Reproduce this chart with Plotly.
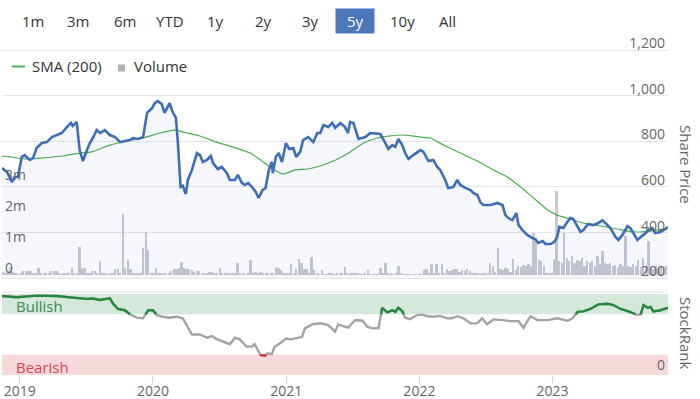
import numpy as np
import pandas as pd
import plotly.graph_objects as go

# ---------------- data ----------------
price_dates = [
    "2018-11-13", "2018-11-27", "2018-12-10", "2018-12-18", "2018-12-27",
    "2019-01-06", "2019-01-14", "2019-01-28", "2019-02-06", "2019-02-16",
    "2019-03-02", "2019-03-16", "2019-03-30", "2019-04-12", "2019-04-26",
    "2019-05-10", "2019-05-21", "2019-05-26", "2019-06-06", "2019-06-14",
    "2019-06-23", "2019-07-04", "2019-07-12", "2019-07-20", "2019-07-31",
    "2019-08-09", "2019-08-22", "2019-09-05", "2019-09-19", "2019-10-03",
    "2019-10-16", "2019-10-30", "2019-11-07", "2019-11-21", "2019-12-05",
    "2019-12-16", "2019-12-30", "2020-01-06", "2020-01-14", "2020-01-25",
    "2020-02-02", "2020-02-16", "2020-02-24", "2020-03-04", "2020-03-09",
    "2020-03-17", "2020-03-23", "2020-03-31", "2020-04-06", "2020-04-17",
    "2020-05-01", "2020-05-09", "2020-05-17", "2020-05-28", "2020-06-08",
    "2020-06-14", "2020-06-27", "2020-07-08", "2020-07-22", "2020-07-30",
    "2020-08-13", "2020-08-21", "2020-09-01", "2020-09-09", "2020-09-18",
    "2020-09-29", "2020-10-09", "2020-10-17", "2020-10-28", "2020-11-05",
    "2020-11-14", "2020-11-22", "2020-11-25", "2020-12-03", "2020-12-11",
    "2020-12-20", "2020-12-31", "2021-01-09", "2021-01-20", "2021-01-28",
    "2021-02-08", "2021-02-16", "2021-03-02", "2021-03-16", "2021-03-27",
    "2021-04-04", "2021-04-13", "2021-04-26", "2021-05-07", "2021-05-15",
    "2021-05-29", "2021-06-11", "2021-06-19",
    "2021-06-25", "2021-07-04", "2021-07-18", "2021-08-06", "2021-08-19",
    "2021-09-16", "2021-09-24", "2021-10-08", "2021-10-19", "2021-10-27",
    "2021-11-04", "2021-11-15", "2021-11-23", "2021-12-02", "2021-12-15",
    "2021-12-26", "2022-01-04", "2022-01-12", "2022-01-26", "2022-02-08",
    "2022-02-19", "2022-02-27", "2022-03-13", "2022-03-21", "2022-04-04",
    "2022-04-15", "2022-04-23", "2022-05-07", "2022-05-21", "2022-05-29",
    "2022-06-09", "2022-06-17", "2022-06-25", "2022-07-15", "2022-08-03",
    "2022-08-17", "2022-08-25", "2022-09-02", "2022-09-13", "2022-09-24",
    "2022-09-30", "2022-10-11", "2022-10-24", "2022-11-07", "2022-11-15",
    "2022-11-23", "2022-12-05", "2022-12-13", "2022-12-27", "2023-01-06",
    "2023-01-14", "2023-01-20", "2023-01-31", "2023-02-11", "2023-02-19",
    "2023-02-27", "2023-03-11", "2023-03-19", "2023-03-27", "2023-04-09",
    "2023-04-23", "2023-05-07", "2023-05-18", "2023-05-26", "2023-06-09",
    "2023-06-23", "2023-07-01", "2023-07-12", "2023-07-26", "2023-08-03",
    "2023-08-11", "2023-08-22", "2023-08-31", "2023-09-08", "2023-09-22",
    "2023-10-02", "2023-10-10", "2023-10-24", "2023-11-07", "2023-11-14",
]
price_values = [
    682, 665, 621, 643, 643,
    731, 739, 718, 726, 770,
    792, 796, 818, 827, 836,
    862, 880, 867, 884, 761,
    713, 761, 792, 814, 849,
    836, 849, 827, 818, 796,
    801, 805, 814, 810, 818,
    924, 946, 967, 976, 963,
    924, 967, 928, 902, 805,
    599, 604, 568, 630, 674,
    748, 739, 709, 718, 735,
    704, 678, 687, 660, 630,
    630, 652, 617, 608, 617,
    599, 577, 551, 586, 595,
    674, 709, 660, 731, 748,
    709, 792, 766, 770, 731,
    753, 805, 818, 796, 836,
    836, 871, 862, 880, 858,
    880, 862, 836,
    884, 880, 810, 818, 836,
    832, 810, 766, 783, 775,
    810, 783, 748, 722, 739,
    753, 761, 753, 713, 718,
    687, 674, 630, 595, 599,
    630, 608, 595, 586, 573,
    564, 533, 520, 520, 529,
    520, 476, 463, 454, 485,
    432, 410, 389, 375, 371,
    354, 362, 349, 349, 358,
    380, 424, 419, 446, 463,
    459, 424, 402, 410, 437,
    432, 441, 454, 441, 419,
    380, 367, 389, 428, 419,
    397, 367, 380, 389, 410,
    419, 397, 402, 415, 424,
]

sma_dates = [
    "2018-11-13", "2018-12-05", "2019-01-20", "2019-02-25", "2019-04-29",
    "2019-06-14", "2019-07-17", "2019-09-05", "2019-10-21", "2019-12-05",
    "2020-01-20", "2020-03-01", "2020-04-03", "2020-05-09", "2020-06-24",
    "2020-08-08", "2020-09-24", "2020-10-22", "2020-11-17", "2020-12-23",
    "2021-01-25", "2021-02-28", "2021-04-04", "2021-05-10", "2021-06-25",
    "2021-08-01", "2021-09-08", "2021-10-13", "2021-11-23", "2022-01-04",
    "2022-01-31", "2022-03-08", "2022-04-23", "2022-06-09", "2022-07-23",
    "2022-08-30", "2022-10-05", "2022-11-10", "2022-12-19", "2023-01-14",
    "2023-02-19", "2023-03-27", "2023-05-13", "2023-06-28", "2023-08-11",
    "2023-09-27", "2023-11-14",
]
sma_values = [
    735, 731, 722, 726, 735, 748, 753, 783, 801, 814,
    836, 849, 836, 823, 796, 774, 748, 718, 687, 656,
    674, 678, 691, 713, 753, 792, 814, 823, 827, 818,
    814, 783, 748, 713, 674, 643, 600, 551, 498, 476,
    459, 441, 428, 415, 402, 406, 419,
]

# weekly volume, in millions of shares (first week ending 2018-11-16)
volume_start = "2018-11-16"
volume_millions = [
    0.10, 0.08, 0.12, 0.26, 0.10, 0.05, 0.03, 0.04, 0.13, 0.12,
    0.14, 0.13, 0.05, 0.04, 0.23, 0.08, 0.07, 0.08, 0.04, 0.13,
    0.12, 0.14, 0.04, 0.03, 0.04, 0.06, 0.05, 0.23, 0.08, 0.06,
    0.91, 0.20, 0.22, 0.08, 0.05, 0.13, 0.12, 0.05, 0.46, 0.06,
    0.05, 0.03, 0.04, 0.06, 0.20, 0.18, 0.08, 1.96, 0.23, 0.50,
    0.20, 0.06, 0.05, 0.04, 0.06, 0.87, 1.40, 0.82, 0.04, 0.05,
    0.23, 0.08, 0.07, 0.06, 0.07, 0.08, 0.12, 0.20, 0.18, 0.22,
    0.43, 0.22, 0.18, 0.20, 0.16, 0.10, 0.13, 0.12, 0.06, 0.05,
    0.04, 0.10, 0.10, 0.05, 0.06, 0.23, 0.05, 0.04, 0.05, 0.03,
    0.04, 0.05, 0.38, 0.04, 0.05, 0.03, 0.05, 0.48, 0.05, 0.10,
    0.07, 0.10, 0.06, 0.05, 0.06, 0.05, 0.07, 0.25, 0.22, 0.15,
    0.04, 0.05, 0.06, 0.35, 0.05, 0.20, 0.51, 0.38, 0.20, 0.18,
    0.05, 0.58, 0.15, 0.04, 0.03, 0.15, 0.03, 0.02, 0.07, 0.06,
    0.03, 0.08, 0.08, 0.04, 0.25, 0.07, 0.06, 0.04, 0.05, 0.04,
    0.03, 0.03, 0.04, 0.15, 0.02, 0.02, 0.03, 0.02, 0.23, 0.05,
    0.38, 0.06, 0.05, 0.03, 0.04, 0.28, 0.05, 0.02, 0.02, 0.01,
    0.01, 0.01, 0.01, 0.02, 0.03, 0.17, 0.20, 0.05, 0.35, 0.04,
    0.35, 0.05, 0.35, 0.04, 0.20, 0.12, 0.15, 0.18, 0.20, 0.10,
    0.15, 0.12, 0.18, 0.14, 0.05, 0.04, 0.06, 0.03, 0.05, 0.04,
    0.06, 0.38, 0.30, 0.10, 0.87, 0.20, 0.15, 0.22, 0.18, 0.10,
    0.51, 0.15, 0.30, 0.25, 0.32, 0.28, 0.35, 0.30, 1.37, 1.15,
    0.48, 0.45, 0.30, 0.05, 0.04, 0.06, 0.50, 2.72, 0.45, 0.40,
    1.34, 0.55, 0.45, 0.60, 0.40, 0.50, 0.45, 0.55, 0.30, 0.45,
    0.40, 0.45, 0.30, 0.60, 0.35, 0.77, 0.40, 0.35, 0.38, 0.30,
    0.33, 0.25, 0.35, 0.30, 1.26, 0.30, 0.25, 0.35, 0.28, 0.50,
    0.25, 0.55, 0.30, 1.10, 0.25, 0.20, 0.28, 0.22, 0.30, 0.25,
    0.28,
]

rank_dates = [
    "2018-11-13", "2018-12-24", "2019-02-16", "2019-04-12", "2019-05-26",
    "2019-07-04", "2019-07-20", "2019-08-09", "2019-09-05", "2019-09-13",
    "2019-09-27", "2019-10-16", "2019-10-30", "2019-11-18", "2019-12-05",
    "2019-12-19", "2020-01-01", "2020-01-12", "2020-01-28", "2020-02-16",
    "2020-03-06", "2020-03-23", "2020-04-17", "2020-05-09", "2020-05-28",
    "2020-06-11", "2020-06-24", "2020-07-11", "2020-07-30", "2020-08-13",
    "2020-08-26", "2020-09-14", "2020-09-29", "2020-10-06", "2020-10-22",
    "2020-11-03", "2020-11-11", "2020-11-22", "2020-11-30", "2020-12-14",
    "2020-12-31", "2021-01-12", "2021-01-31", "2021-02-13", "2021-02-21",
    "2021-03-13", "2021-04-04", "2021-04-26", "2021-05-15", "2021-05-23",
    "2021-06-19", "2021-07-09", "2021-07-29", "2021-08-11", "2021-08-25",
    "2021-09-11", "2021-09-21", "2021-10-05", "2021-10-19", "2021-10-27",
    "2021-11-04", "2021-11-15", "2021-11-23", "2021-12-07", "2021-12-26",
    "2022-01-09", "2022-01-23", "2022-02-08", "2022-02-27", "2022-03-18",
    "2022-04-01", "2022-04-15", "2022-05-02", "2022-05-21", "2022-06-09",
    "2022-06-22", "2022-07-06", "2022-07-23", "2022-08-19", "2022-09-07",
    "2022-09-30", "2022-10-14", "2022-10-24", "2022-11-02", "2022-11-21",
    "2022-12-19", "2023-01-14", "2023-02-11", "2023-02-25", "2023-03-11",
    "2023-03-27", "2023-04-15", "2023-05-07", "2023-06-01", "2023-06-17",
    "2023-07-07", "2023-07-29", "2023-08-22", "2023-08-31", "2023-09-08",
    "2023-09-19", "2023-09-27", "2023-10-05", "2023-10-24", "2023-11-14",
]
rank_values = [
    97.5, 96, 98, 97.5, 95.5, 94, 94.5, 92.6, 94.7, 88.5,
    81.5, 80, 75, 70.8, 70, 80, 80, 74, 72, 70.8,
    72, 70, 50, 50, 46, 48, 44.4, 41, 38, 46,
    44, 35, 35, 38, 24.7, 23.8, 26.7, 25.5, 35, 39,
    45, 44, 46, 47, 57.6, 62.5, 63.8, 61.7, 53.5, 62.5,
    58.4, 68, 67, 59.7, 57.6, 58, 83, 77.4, 80, 78,
    83, 79, 70.8, 69, 74, 74.5, 72.6, 72, 73, 70,
    70, 72.6, 70, 63.8, 63.8, 70, 62.5, 68.7, 67.8, 66.5,
    66.5, 58.4, 66.5, 72.6, 68, 67.8, 70, 67, 70, 78,
    78.6, 81.5, 87.2, 88, 86.4, 81.5, 78.6, 74, 75, 86.4,
    83, 84, 78.6, 80, 83,
]

range_buttons = ["1m", "3m", "6m", "YTD", "1y", "2y", "3y", "5y", "10y", "All"]
selected_button = "5y"
year_ticks = ["2019-01-01", "2020-01-01", "2021-01-01", "2022-01-01", "2023-01-01"]
year_labels = ["2019", "2020", "2021", "2022", "2023"]
price_ticks = [200, 400, 600, 800, 1000, 1200]
volume_ticks = [0, 1, 2, 3]
volume_labels = ["0", "1m", "2m", "3m"]
x_range = ["2018-11-13", "2023-11-14"]
bull_level, bear_level = 75, 25

# ---------------- layout helpers (pixel -> paper) ----------------
FIG_W, FIG_H = 700, 399
ML, MR, MT, MB = 2, 32, 18, 24
PW = FIG_W - ML - MR
PH = FIG_H - MT - MB


def fx(px):
    return (px - ML) / PW


def fy(py):
    return (FIG_H - MB - py) / PH


# upper panel: price 200 sits at y=278 px, 1,200 at y=50 px; volume 0 at y=275 px
P_BOTTOM, P_1200, V_ZERO = 278, 50, 275
DOM_BOTTOM = 284
P_TOP = MT
UPPER_DOM = [fy(DOM_BOTTOM), 1.0]
LOWER_DOM = [0.0, fy(292)]
px_per_price = (P_BOTTOM - P_1200) / (max(price_ticks) - min(price_ticks))
price_low = min(price_ticks) - (DOM_BOTTOM - P_BOTTOM) / px_per_price
price_top = min(price_ticks) + (P_BOTTOM - P_TOP) / px_per_price

FONT = "Open Sans"
LABEL_GREY = "#666666"
BLUE = "#3d6cb9"
GREEN_SMA = "#4caf50"
BAR_GREY = "#c6c9d0"


def zone_line(dates, vals, thr, above):
    t = pd.to_datetime(pd.Series(dates)).values.astype("datetime64[ns]").astype("int64")
    v = np.asarray(vals, dtype=float)
    inside = (v >= thr) if above else (v <= thr)
    xs, ys = [], []
    last = None
    for i in range(len(v) - 1):
        a, b = bool(inside[i]), bool(inside[i + 1])
        if not (a or b):
            continue
        if a and b:
            seg = [(t[i], v[i]), (t[i + 1], v[i + 1])]
        else:
            tc = t[i] + (t[i + 1] - t[i]) * (thr - v[i]) / (v[i + 1] - v[i])
            seg = [(t[i], v[i]), (tc, thr)] if a else [(tc, thr), (t[i + 1], v[i + 1])]
        if last is not None and last == seg[0][0]:
            pts = seg[1:]
        else:
            if xs:
                xs.append(None)
                ys.append(None)
            pts = seg
        for tt, vv in pts:
            xs.append(pd.Timestamp(int(tt)))
            ys.append(vv)
        last = seg[-1][0]
    return xs, ys


fig = go.Figure()

# volume (base axis of the upper panel)
vol_dates = pd.date_range(volume_start, periods=len(volume_millions), freq="7D")
fig.add_trace(go.Bar(
    x=vol_dates, y=volume_millions, xaxis="x", yaxis="y",
    marker=dict(color=BAR_GREY, line=dict(width=0)),
    width=5 * 86400000, hoverinfo="skip",
))

# SMA and price (overlay axis)
fig.add_trace(go.Scatter(
    x=sma_dates, y=sma_values, xaxis="x", yaxis="y2", mode="lines",
    line=dict(color=GREEN_SMA, width=1.2, shape="spline", smoothing=0.6),
    hoverinfo="skip",
))
# baseline at the lowest price tick, so the area fill stops at the 200 gridline
fig.add_trace(go.Scatter(
    x=[price_dates[0], price_dates[-1]], y=[min(price_ticks)] * 2,
    xaxis="x", yaxis="y2", mode="lines", line=dict(width=0, color="rgba(0,0,0,0)"),
    hoverinfo="skip",
))
fig.add_trace(go.Scatter(
    x=price_dates, y=price_values, xaxis="x", yaxis="y2", mode="lines",
    line=dict(color=BLUE, width=2.6), fill="tonexty",
    fillcolor="rgba(69,105,190,0.05)", hoverinfo="skip",
))

# StockRank
fig.add_trace(go.Scatter(
    x=rank_dates, y=rank_values, xaxis="x", yaxis="y3", mode="lines",
    line=dict(color="#a3a3a3", width=2.4), hoverinfo="skip",
))
gx, gy = zone_line(rank_dates, rank_values, bull_level, True)
fig.add_trace(go.Scatter(
    x=gx, y=gy, xaxis="x", yaxis="y3", mode="lines",
    line=dict(color="#24883a", width=2.4), hoverinfo="skip", connectgaps=False,
))
rx, ry = zone_line(rank_dates, rank_values, bear_level, False)
fig.add_trace(go.Scatter(
    x=rx, y=ry, xaxis="x", yaxis="y3", mode="lines",
    line=dict(color="#e0303f", width=2.4), hoverinfo="skip", connectgaps=False,
))

shapes = [
    dict(type="rect", xref="paper", yref="y3", x0=0, x1=1, y0=bull_level, y1=100,
         fillcolor="#d4e9dc", line=dict(width=0), layer="below"),
    dict(type="rect", xref="paper", yref="y3", x0=0, x1=1, y0=0, y1=bear_level,
         fillcolor="#f7d9db", line=dict(width=0), layer="below"),
    dict(type="line", xref="paper", yref="paper", x0=0, x1=1, y0=fy(292), y1=fy(292),
         line=dict(color="#e6e6e6", width=1), layer="below"),
    # legend symbols
    dict(type="line", xref="paper", yref="paper", x0=fx(12), x1=fx(25), y0=fy(66.5), y1=fy(66.5),
         line=dict(color=GREEN_SMA, width=2)),
    dict(type="rect", xref="paper", yref="paper", x0=fx(118), x1=fx(125), y0=fy(71.5), y1=fy(64.5),
         fillcolor="#b0b2b8", line=dict(width=0)),
]

annotations = []
btn_centers = [33, 78, 125, 170, 216, 263, 310, 355, 402, 447]
for name, cx in zip(range_buttons, btn_centers):
    sel = name == selected_button
    if sel:
        shapes.append(dict(type="rect", xref="paper", yref="paper",
                           x0=fx(cx - 19.5), x1=fx(cx + 19.5), y0=fy(33.5), y1=fy(8.5),
                           fillcolor="#4a76bb", line=dict(width=0)))
    annotations.append(dict(
        text=name, xref="paper", yref="paper", x=fx(cx), y=fy(21),
        xanchor="center", yanchor="middle", showarrow=False,
        font=dict(family=FONT, size=15, color="#ffffff" if sel else "#333333"),
    ))

# volume axis labels, placed on the volume scale (left, just above each tick)
for val, lab in zip(volume_ticks, volume_labels):
    annotations.append(dict(
        text=lab, xref="paper", yref="y", x=0, y=val, xanchor="left",
        yanchor="middle", yshift=8, xshift=1, showarrow=False,
        font=dict(family=FONT, size=14, color=LABEL_GREY),
    ))

annotations += [
    dict(text="SMA (200)", xref="paper", yref="paper", x=fx(30), y=fy(66.5),
         xanchor="left", yanchor="middle", showarrow=False,
         font=dict(family=FONT, size=15, color="#333333")),
    dict(text="Volume", xref="paper", yref="paper", x=fx(132), y=fy(66.5),
         xanchor="left", yanchor="middle", showarrow=False,
         font=dict(family=FONT, size=15, color="#333333")),
    dict(text="Share Price", xref="paper", yref="paper", x=fx(686), y=fy(164),
         xanchor="center", yanchor="middle", textangle=90, showarrow=False,
         font=dict(family=FONT, size=15, color=LABEL_GREY)),
    dict(text="StockRank", xref="paper", yref="paper", x=fx(686), y=fy(333),
         xanchor="center", yanchor="middle", textangle=90, showarrow=False,
         font=dict(family=FONT, size=15, color=LABEL_GREY)),
    dict(text="Bullish", xref="paper", yref="paper", x=fx(14), y=fy(306),
         xanchor="left", yanchor="middle", showarrow=False,
         font=dict(family=FONT, size=15, color="#3b8a4c")),
    dict(text="Bearish", xref="paper", yref="paper", x=fx(14), y=fy(367),
         xanchor="left", yanchor="middle", showarrow=False,
         font=dict(family=FONT, size=15, color="#d9434f")),
]

tickfont = dict(family=FONT, size=14, color=LABEL_GREY)
vol_px_per_unit = 31.0
vol_low = -(DOM_BOTTOM - V_ZERO) / vol_px_per_unit
vol_high = vol_low + (DOM_BOTTOM - P_TOP) / vol_px_per_unit

fig.update_layout(
    width=FIG_W, height=FIG_H,
    margin=dict(l=ML, r=MR, t=MT, b=MB, pad=0, autoexpand=False),
    paper_bgcolor="white", plot_bgcolor="white",
    showlegend=False, bargap=0,
    font=dict(family=FONT, color=LABEL_GREY, size=14),
    xaxis=dict(domain=[0, 1], anchor="y3", type="date", range=x_range,
               tickvals=year_ticks, ticktext=year_labels, ticks="outside",
               ticklen=7, tickcolor="#ccd6eb", tickwidth=1, showgrid=False,
               ticklabelstandoff=-4,
               showline=False, zeroline=False, tickfont=tickfont, automargin=False),
    yaxis=dict(domain=UPPER_DOM, anchor="x", side="left", range=[vol_low, vol_high],
               showticklabels=False, showgrid=False, zeroline=False,
               showline=False, ticks="", automargin=False),
    yaxis2=dict(overlaying="y", anchor="x", side="right", range=[price_low, price_top],
                tickvals=price_ticks, tickformat=",d",
                ticklabelposition="inside top", ticklabelshift=3,
                showgrid=True, gridcolor="#e6e6e6",
                gridwidth=1, zeroline=False, showline=False, ticks="",
                tickfont=tickfont, automargin=False),
    yaxis3=dict(domain=LOWER_DOM, anchor="x", side="right", range=[0, 102.5],
                tickvals=[0], ticktext=["0"], ticklabelposition="inside top",
                showgrid=False, zeroline=False, showline=False, ticks="",
                tickfont=tickfont, automargin=False),
    shapes=shapes,
    annotations=annotations,
)

fig.write_html("out.html", config={"displayModeBar": False},
               post_script="document.body.style.margin='0px';")
